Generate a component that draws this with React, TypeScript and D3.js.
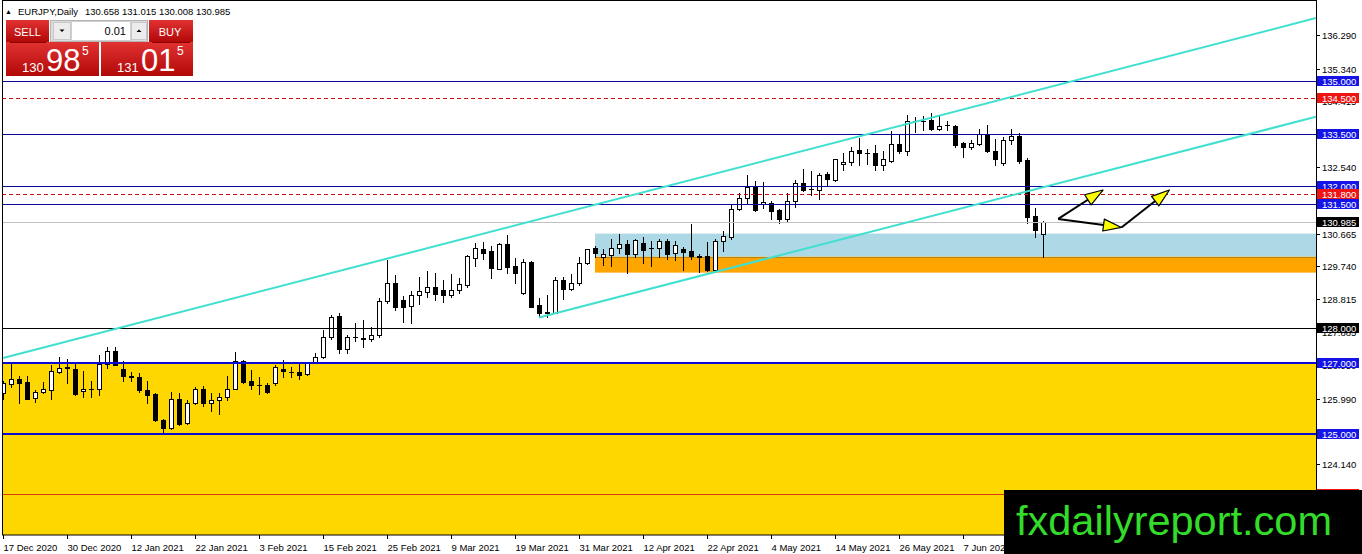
import React, { useEffect, useRef } from "react";
import * as d3 from "d3";

// ─── Data: EURJPY daily candles ────────────────────────────────────────────────
const OPEN = [
  126.16, 126.42, 126.54, 126.46, 125.99, 126.16, 126.21, 126.76, 126.89, 126.82,
  126.19, 126.25, 126.25, 126.95, 127.33, 126.82, 126.63, 126.59, 126.23, 126.12,
  125.38, 125.16, 125.97, 125.29, 125.86, 126.25, 125.86, 125.95, 126.03, 126.27,
  127.05, 126.48, 126.37, 126.37, 126.43, 126.82, 126.75, 126.74, 126.69, 127.03,
  127.16, 127.74, 128.33, 127.39, 127.74, 127.71, 127.69, 127.8, 128.75, 129.26,
  128.78, 128.61, 128.92, 129.01, 129.16, 129.07, 128.93, 129.05, 129.22, 129.99,
  130.22, 130.16, 129.67, 130.37, 129.75, 128.99, 129.86, 128.63, 128.44, 128.42,
  129.35, 129.1, 129.26, 129.82, 130.26, 130.01, 130.07, 130.27, 130.37, 130.09,
  130.41, 130.24, 130.24, 130.46, 130.11, 130.24, 130.16, 130.03, 130.03, 129.63,
  130.46, 130.57, 131.37, 131.67, 132.0, 131.5, 131.54, 131.33, 131.07, 131.58,
  132.09, 131.92, 131.9, 132.35, 132.18, 132.64, 132.69, 133.03, 132.94, 132.94,
  132.6, 132.73, 133.2, 133.01, 133.86, 133.86, 133.88, 133.62, 133.73, 133.71,
  133.22, 133.11, 133.22, 133.5, 133.0, 132.69, 133.33, 133.43, 132.75, 131.16,
  130.658,
];
const HIGH = [
  126.5, 126.99, 126.63, 126.63, 126.23, 126.46, 126.95, 127.17, 127.1, 126.97,
  126.76, 126.5, 127.23, 127.46, 127.44, 127.05, 126.74, 126.71, 126.48, 126.14,
  125.42, 126.18, 126.16, 125.95, 126.33, 126.36, 126.14, 126.16, 126.63, 127.31,
  127.08, 126.8, 126.59, 126.44, 126.94, 127.08, 126.89, 127.03, 127.01, 127.27,
  127.93, 128.36, 128.41, 127.79, 128.14, 128.22, 128.01, 128.84, 129.92, 129.49,
  128.9, 129.03, 129.43, 129.6, 129.54, 129.35, 129.52, 129.41, 130.07, 130.39,
  130.43, 130.31, 130.41, 130.63, 129.97, 129.94, 129.9, 128.84, 128.93, 129.44,
  129.43, 129.52, 130.01, 130.24, 130.31, 130.24, 130.52, 130.65, 130.48, 130.52,
  130.56, 130.46, 130.5, 130.5, 130.46, 130.28, 130.94, 130.09, 130.43, 130.52,
  130.75, 131.5, 131.81, 132.33, 132.15, 132.12, 131.58, 131.37, 131.81, 132.18,
  132.49, 132.43, 132.39, 132.41, 132.78, 132.96, 133.12, 133.37, 133.07, 133.18,
  133.01, 133.56, 133.47, 134.03, 133.96, 133.99, 134.07, 134.03, 133.86, 133.75,
  133.26, 133.32, 133.62, 133.75, 133.35, 133.39, 133.63, 133.52, 132.82, 131.39,
  131.015,
];
const LOW = [
  125.97, 126.32, 125.87, 125.97, 125.89, 126.14, 125.99, 126.71, 126.42, 126.08,
  126.04, 126.03, 126.08, 126.87, 126.93, 126.5, 126.5, 126.18, 125.87, 125.36,
  125.04, 125.14, 125.25, 125.27, 125.84, 125.78, 125.65, 125.57, 125.95, 126.25,
  126.44, 126.25, 126.12, 126.14, 126.37, 126.61, 126.61, 126.56, 126.67, 126.99,
  127.14, 127.69, 127.27, 127.27, 127.61, 127.46, 127.61, 127.73, 128.69, 128.5,
  128.17, 128.14, 128.67, 128.87, 128.78, 128.73, 128.87, 128.97, 129.16, 129.75,
  129.95, 129.42, 129.65, 129.56, 129.27, 128.95, 128.58, 128.29, 128.31, 128.41,
  128.8, 129.07, 129.22, 129.8, 130.01, 129.78, 129.75, 130.11, 129.54, 130.01,
  129.84, 129.75, 129.99, 129.94, 129.92, 129.63, 129.94, 129.58, 129.61, 129.61,
  130.16, 130.52, 131.33, 131.54, 131.31, 131.39, 131.09, 130.96, 130.99, 131.43,
  131.88, 131.75, 131.64, 132.01, 132.15, 132.47, 132.62, 132.6, 132.63, 132.47,
  132.47, 132.69, 132.96, 132.88, 133.54, 133.6, 133.6, 133.6, 133.6, 133.12,
  132.84, 133.07, 133.18, 132.98, 132.62, 132.6, 133.2, 132.66, 130.97, 130.58,
  130.008,
];
const CLOSE = [
  126.44, 126.56, 126.44, 125.99, 126.17, 126.25, 126.76, 126.87, 126.85, 126.1,
  126.25, 126.24, 126.97, 127.33, 126.93, 126.61, 126.59, 126.21, 126.1, 125.38,
  125.16, 125.97, 125.27, 125.86, 126.25, 125.86, 125.95, 126.03, 126.27, 127.06,
  126.46, 126.37, 126.36, 126.18, 126.89, 126.76, 126.74, 126.65, 126.99, 127.16,
  127.74, 128.31, 127.4, 127.73, 127.75, 127.67, 127.8, 128.75, 129.26, 128.59,
  128.57, 128.93, 129.03, 129.16, 128.97, 128.93, 129.07, 129.23, 130.03, 130.26,
  130.12, 129.67, 130.37, 129.73, 129.54, 129.86, 128.59, 128.39, 128.41, 129.35,
  129.1, 129.26, 129.82, 130.22, 130.12, 130.09, 130.27, 130.37, 130.09, 130.48,
  130.2, 130.25, 130.45, 130.09, 130.33, 130.16, 130.03, 130.01, 129.63, 130.45,
  130.6, 131.37, 131.67, 131.98, 131.33, 131.56, 131.31, 131.07, 131.58, 132.09,
  131.88, 131.93, 132.33, 132.2, 132.77, 132.69, 133.01, 132.94, 132.94, 132.6,
  132.77, 133.2, 133.01, 133.86, 133.86, 133.86, 133.62, 133.71, 133.73, 133.16,
  133.11, 133.22, 133.5, 133.01, 132.77, 133.33, 133.43, 132.73, 131.14, 130.75,
  130.985,
];

// one time label every DATE_STEP bars, starting at the first bar
const DATE_LABELS = [
  "17 Dec 2020", "30 Dec 2020", "12 Jan 2021", "22 Jan 2021", "3 Feb 2021",
  "15 Feb 2021", "25 Feb 2021", "9 Mar 2021", "19 Mar 2021", "31 Mar 2021",
  "12 Apr 2021", "22 Apr 2021", "4 May 2021", "14 May 2021", "26 May 2021",
  "7 Jun 2021",
];
const DATE_STEP = 8;

const PRICE_TICKS = [
  "136.290", "135.340", "134.415", "133.490", "132.540", "131.615", "130.665",
  "129.740", "128.815", "127.885", "126.950", "125.990", "125.065", "124.140",
  "123.215",
];

// horizontal levels
const BLUE_LEVELS = [135.0, 133.5, 132.0, 131.5];
const HEAVY_BLUE_LEVELS = [127.0, 125.0];
const RED_DASHED_LEVELS = [134.5, 131.8];
const BLACK_LEVELS = [128.0];
const RED_LEVELS = [123.3];
const LAST_PRICE = 130.985;

// zones
const SUPPORT_TOP = 127.0; // yellow zone runs from here to the bottom of the chart
const BLUE_BOX = [130.665, 130.01];
const ORANGE_BOX = [130.01, 129.56];
const BOX_START_BAR = 74;

// channel rays: [bar index, price]
const UPPER_CHANNEL: [number, number][] = [[0, 127.14], [113, 133.77]];
const LOWER_CHANNEL: [number, number][] = [[67, 128.29], [128, 131.86]];

// projection arrows: [from, to] in [bar index, price]
const ARROWS: [number, number][][] = [
  [[131.9, 131.08], [137.5, 131.9]],
  [[131.9, 131.08], [139.8, 130.84]],
  [[139.8, 130.84], [145.8, 131.9]],
];

// ─── Layout / colours ──────────────────────────────────────────────────────────
const W = 1362;
const H = 554;
const PLOT = { left: 2, right: 1316, top: 1, bottom: 535 };
const FONT = "'Liberation Sans', Arial, sans-serif";
const BLUE_LINE = "#0a0a9a";
const HEAVY_BLUE = "#0a0ad2";
const BLUE_TAG = "#1414e6";
const RED_LINE = "#cc1010";
const RED_TAG = "#ee1414";
const CHANNEL = "#40e0d0";

export default function App() {
  const svgRef = useRef<SVGSVGElement>(null);

  useEffect(() => {
    const node = svgRef.current;
    if (!node) return;
    const svg = d3.select(node);
    svg.selectAll("*").remove();

    const nBars = OPEN.length;
    const x = d3.scaleLinear().domain([-0.125, 164.125]).range([PLOT.left, PLOT.right]);
    const y = d3.scaleLinear().domain([137.253, 122.129]).range([PLOT.top, PLOT.bottom]);
    const px = (i: number) => Math.round(x(i)) + 0.5;
    const py = (p: number) => Math.round(y(p)) + 0.5;
    const iMax = x.domain()[1];

    svg.append("rect").attr("width", W).attr("height", H).attr("fill", "#fff");

    const defs = svg.append("defs");
    defs.append("clipPath").attr("id", "plotClip")
      .append("rect")
      .attr("x", PLOT.left).attr("y", PLOT.top)
      .attr("width", PLOT.right - PLOT.left).attr("height", PLOT.bottom - PLOT.top);
    const grad = defs.append("linearGradient").attr("id", "redGrad")
      .attr("x1", 0).attr("x2", 0).attr("y1", 0).attr("y2", 1);
    grad.append("stop").attr("offset", "0%").attr("stop-color", "#e23232");
    grad.append("stop").attr("offset", "100%").attr("stop-color", "#b10808");

    const plot = svg.append("g").attr("clip-path", "url(#plotClip)");

    // ── Zones ────────────────────────────────────────────────────────────────
    plot.append("rect")
      .attr("x", PLOT.left).attr("y", Math.round(y(SUPPORT_TOP)))
      .attr("width", PLOT.right - PLOT.left)
      .attr("height", PLOT.bottom - Math.round(y(SUPPORT_TOP)))
      .attr("fill", "#ffd700");
    plot.append("rect")
      .attr("x", Math.round(x(BOX_START_BAR))).attr("y", y(BLUE_BOX[0]))
      .attr("width", x(iMax) - Math.round(x(BOX_START_BAR)))
      .attr("height", y(BLUE_BOX[1]) - y(BLUE_BOX[0]))
      .attr("fill", "#add8e6");
    plot.append("rect")
      .attr("x", Math.round(x(BOX_START_BAR))).attr("y", y(ORANGE_BOX[0]))
      .attr("width", x(iMax) - Math.round(x(BOX_START_BAR)))
      .attr("height", y(ORANGE_BOX[1]) - y(ORANGE_BOX[0]))
      .attr("fill", "#ffa500");
    plot.append("line")
      .attr("x1", Math.round(x(BOX_START_BAR))).attr("x2", x(iMax))
      .attr("y1", py(ORANGE_BOX[0])).attr("y2", py(ORANGE_BOX[0]))
      .attr("stroke", "#b8860b").attr("stroke-width", 1);

    // ── Candles ──────────────────────────────────────────────────────────────
    const bars = d3.range(nBars).map((i) => ({
      i, o: OPEN[i], h: HIGH[i], l: LOW[i], c: CLOSE[i],
    }));
    const cg = plot.append("g").attr("shape-rendering", "crispEdges");
    cg.selectAll("line.wick").data(bars).join("line")
      .attr("class", "wick")
      .attr("x1", (d) => px(d.i)).attr("x2", (d) => px(d.i))
      .attr("y1", (d) => Math.round(y(d.h))).attr("y2", (d) => Math.round(y(d.l)) + 1)
      .attr("stroke", "#000").attr("stroke-width", 1);
    cg.selectAll("rect.body").data(bars).join("rect")
      .attr("class", "body")
      .attr("x", (d) => px(d.i) - 2)
      .attr("width", 4)
      .attr("y", (d) => py(Math.max(d.o, d.c)))
      .attr("height", (d) => Math.max(Math.round(Math.abs(y(d.o) - y(d.c))), 0.01))
      .attr("fill", (d) => (d.c >= d.o ? "#fff" : "#000"))
      .attr("stroke", "#000").attr("stroke-width", 1);

    // ── Horizontal levels ────────────────────────────────────────────────────
    const hLine = (p: number, color: string, width: number, dash?: string) => {
      const yy = width % 2 === 1 ? py(p) : Math.round(y(p));
      const l = plot.append("line")
        .attr("x1", PLOT.left).attr("x2", PLOT.right)
        .attr("y1", yy).attr("y2", yy)
        .attr("stroke", color).attr("stroke-width", width);
      if (dash) l.attr("stroke-dasharray", dash);
    };
    hLine(LAST_PRICE, "#c0c0c0", 1);
    BLUE_LEVELS.forEach((p) => hLine(p, BLUE_LINE, 1));
    HEAVY_BLUE_LEVELS.forEach((p) => hLine(p, HEAVY_BLUE, 2));
    RED_DASHED_LEVELS.forEach((p) => hLine(p, RED_LINE, 1, "4,3"));
    BLACK_LEVELS.forEach((p) => hLine(p, "#000", 1));
    RED_LEVELS.forEach((p) => hLine(p, "#d83a12", 1));

    // ── Channel rays ─────────────────────────────────────────────────────────
    const ray = (pts: [number, number][]) => {
      const [[i0, p0], [i1, p1]] = pts;
      const slope = (p1 - p0) / (i1 - i0);
      plot.append("line")
        .attr("x1", x(i0)).attr("y1", y(p0))
        .attr("x2", x(iMax)).attr("y2", y(p0 + slope * (iMax - i0)))
        .attr("stroke", CHANNEL).attr("stroke-width", 2);
    };
    ray(UPPER_CHANNEL);
    ray(LOWER_CHANNEL);

    // ── Arrows ───────────────────────────────────────────────────────────────
    ARROWS.forEach(([[ia, pa], [ib, pb]]) => {
      const x1 = x(ia), y1 = y(pa), x2 = x(ib), y2 = y(pb);
      const ang = Math.atan2(y2 - y1, x2 - x1);
      const len = 18, half = 6;
      const bx = x2 - len * Math.cos(ang), by = y2 - len * Math.sin(ang);
      plot.append("line")
        .attr("x1", x1).attr("y1", y1).attr("x2", bx).attr("y2", by)
        .attr("stroke", "#000").attr("stroke-width", 2);
      const pts = [
        [x2, y2],
        [bx + half * Math.sin(ang), by - half * Math.cos(ang)],
        [bx - half * Math.sin(ang), by + half * Math.cos(ang)],
      ];
      plot.append("polygon")
        .attr("points", pts.map((p) => p.join(",")).join(" "))
        .attr("fill", "#ffff00").attr("stroke", "#000").attr("stroke-width", 1.2)
        .attr("stroke-linejoin", "round");
    });

    // ── Frame ────────────────────────────────────────────────────────────────
    svg.append("rect")
      .attr("x", PLOT.left + 0.5).attr("y", PLOT.top - 0.5)
      .attr("width", PLOT.right - PLOT.left).attr("height", PLOT.bottom - PLOT.top + 0.5)
      .attr("fill", "none").attr("stroke", "#000").attr("stroke-width", 1);

    // ── Price axis ───────────────────────────────────────────────────────────
    const axis = svg.append("g").attr("font-family", FONT).attr("font-size", 9.5);
    PRICE_TICKS.forEach((t) => {
      const yy = py(+t);
      axis.append("line")
        .attr("x1", PLOT.right).attr("x2", PLOT.right + 4)
        .attr("y1", yy).attr("y2", yy).attr("stroke", "#000");
      axis.append("text")
        .attr("x", PLOT.right + 6).attr("y", yy + 3.5)
        .attr("fill", "#000").text(t);
    });

    const tags: [number, string][] = [
      ...BLUE_LEVELS.map((p) => [p, BLUE_TAG] as [number, string]),
      ...HEAVY_BLUE_LEVELS.map((p) => [p, BLUE_TAG] as [number, string]),
      ...RED_DASHED_LEVELS.map((p) => [p, RED_TAG] as [number, string]),
      ...BLACK_LEVELS.map((p) => [p, "#000"] as [number, string]),
      ...RED_LEVELS.map((p) => [p, RED_TAG] as [number, string]),
      [LAST_PRICE, "#000"],
    ];
    tags.sort((a, b) => b[0] - a[0]).forEach(([p, color]) => {
      const yy = y(p);
      axis.append("rect")
        .attr("x", PLOT.right + 1).attr("y", Math.round(yy) - 5)
        .attr("width", 42).attr("height", 10)
        .attr("fill", color);
      axis.append("text")
        .attr("x", PLOT.right + 6).attr("y", Math.round(yy) + 3.5)
        .attr("fill", "#fff").text(p.toFixed(3));
    });

    // ── Time axis ────────────────────────────────────────────────────────────
    DATE_LABELS.forEach((label, k) => {
      const xx = px(k * DATE_STEP);
      axis.append("line")
        .attr("x1", xx).attr("x2", xx)
        .attr("y1", PLOT.bottom).attr("y2", PLOT.bottom + 4).attr("stroke", "#000");
      axis.append("text")
        .attr("x", xx).attr("y", PLOT.bottom + 16)
        .attr("fill", "#000").text(label);
    });

    // ── Title ────────────────────────────────────────────────────────────────
    const title = svg.append("g").attr("font-family", FONT).attr("font-size", 9.5).attr("fill", "#000");
    title.append("text").attr("x", 5).attr("y", 14).attr("font-size", 7).text("▲");
    title.append("text").attr("x", 18).attr("y", 14.5).text("EURJPY,Daily");
    title.append("text").attr("x", 85).attr("y", 14.5)
      .text(`${OPEN[nBars - 1].toFixed(3)} ${HIGH[nBars - 1].toFixed(3)} ${LOW[nBars - 1].toFixed(3)} ${CLOSE[nBars - 1].toFixed(3)}`);

    // ── One-click trading panel ──────────────────────────────────────────────
    const panel = svg.append("g").attr("font-family", FONT);
    panel.append("rect").attr("x", 6).attr("y", 20).attr("width", 43).attr("height", 22).attr("fill", "url(#redGrad)");
    panel.append("rect").attr("x", 149).attr("y", 20).attr("width", 44).attr("height", 22).attr("fill", "url(#redGrad)");
    panel.append("rect").attr("x", 6).attr("y", 42).attr("width", 93).attr("height", 34).attr("fill", "url(#redGrad)");
    panel.append("rect").attr("x", 101).attr("y", 42).attr("width", 92).attr("height", 34).attr("fill", "url(#redGrad)");
    panel.append("line").attr("x1", 10).attr("x2", 46).attr("y1", 42.5).attr("y2", 42.5).attr("stroke", "#8a0000");
    panel.append("line").attr("x1", 152).attr("x2", 190).attr("y1", 42.5).attr("y2", 42.5).attr("stroke", "#8a0000");
    panel.append("text").attr("x", 27.5).attr("y", 35.5).attr("text-anchor", "middle")
      .attr("font-size", 11).attr("fill", "#fff").text("SELL");
    panel.append("text").attr("x", 170).attr("y", 35.5).attr("text-anchor", "middle")
      .attr("font-size", 11).attr("fill", "#fff").text("BUY");

    // lot size spinner
    panel.append("rect").attr("x", 50.5).attr("y", 20.5).attr("width", 97).attr("height", 21)
      .attr("fill", "#dcdcdc").attr("stroke", "#b4b4b4");
    panel.append("rect").attr("x", 53.5).attr("y", 22.5).attr("width", 17).attr("height", 17)
      .attr("fill", "#ececec").attr("stroke", "#c8c8c8");
    panel.append("rect").attr("x", 71.5).attr("y", 21.5).attr("width", 59).attr("height", 19)
      .attr("fill", "#fff").attr("stroke", "#d0d0d0");
    panel.append("rect").attr("x", 131.5).attr("y", 22.5).attr("width", 15).attr("height", 17)
      .attr("fill", "#ececec").attr("stroke", "#c8c8c8");
    panel.append("path").attr("d", "M59.5,29.5 L64.5,29.5 L62,32 Z").attr("fill", "#000");
    panel.append("path").attr("d", "M136.5,32 L141.5,32 L139,29.5 Z").attr("fill", "#000");
    panel.append("text").attr("x", 126).attr("y", 35).attr("text-anchor", "end")
      .attr("font-size", 11).attr("fill", "#000").text("0.01");

    // bid / ask
    const quote = (x0: number, big: string, small: string) => {
      panel.append("text").attr("x", x0).attr("y", 72).attr("font-size", 13).attr("fill", "#fff").text(big.slice(0, 3));
      panel.append("text").attr("x", x0 + 24).attr("y", 71).attr("font-size", 31).attr("fill", "#fff").text(big.slice(4, 6));
      panel.append("text").attr("x", x0 + 60).attr("y", 55).attr("font-size", 12).attr("fill", "#fff").text(small);
    };
    quote(22, "130.985", "5");
    quote(117, "131.015", "5");

    // ── Watermark ────────────────────────────────────────────────────────────
    svg.append("rect").attr("x", 1004).attr("y", 490).attr("width", W - 1004).attr("height", H - 490).attr("fill", "#000");
    svg.append("text")
      .attr("x", 1016).attr("y", 535)
      .attr("font-family", FONT).attr("font-size", 41)
      .attr("textLength", 316).attr("lengthAdjust", "spacingAndGlyphs")
      .attr("fill", "#34dc2a").text("fxdailyreport.com");
  }, []);

  return (
    <svg
      ref={svgRef}
      width={W}
      height={H}
      style={{ position: "absolute", left: 0, top: 0, fontFamily: FONT }}
    />
  );
}
